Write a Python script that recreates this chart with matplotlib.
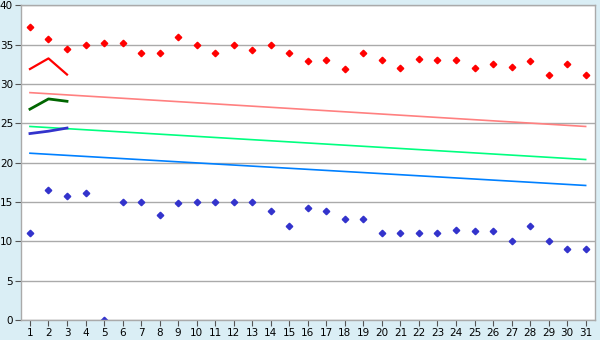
import matplotlib
matplotlib.use('Agg')
import matplotlib.pyplot as plt

# ---- data ----
days = list(range(1, 32))
red_pts = [37.2, 35.7, 34.4, 35.0, 35.2, 35.2, 34.0, 34.0, 36.0, 35.0,
           34.0, 35.0, 34.3, 35.0, 33.9, 32.9, 33.0, 31.9, 33.9, 33.0,
           32.0, 33.2, 33.0, 33.0, 32.0, 32.6, 32.2, 32.9, 31.1, 32.6, 31.1]
blue_pts = [11.1, 16.5, 15.8, 16.1, 0.0, 15.0, 15.0, 13.3, 14.9, 15.0,
            15.0, 15.0, 15.0, 13.9, 12.0, 14.3, 13.9, 12.8, 12.8, 11.1,
            11.1, 11.1, 11.0, 11.5, 11.3, 11.3, 10.0, 12.0, 10.0, 9.0, 9.0]

short_x = [1, 2, 3]
short_red = [31.9, 33.25, 31.2]
short_green = [26.8, 28.1, 27.8]
short_blue = [23.7, 24.0, 24.4]

trend_x = [1, 31]
trend_pink = [28.9, 24.6]
trend_green = [24.6, 20.4]
trend_blue = [21.2, 17.1]

bg = '#DAEEF5'
fig = plt.figure(figsize=(6, 3.4), dpi=100, facecolor=bg)
ax = fig.add_axes([0.0345, 0.0588, 0.957, 0.9256])
ax.set_facecolor('white')

ax.plot(trend_x, trend_pink, color='#FF8080', lw=1.2)
ax.plot(trend_x, trend_green, color='#00FF80', lw=1.2)
ax.plot(trend_x, trend_blue, color='#0080FF', lw=1.2)

ax.plot(short_x, short_red, color='#FF0000', lw=1.6)
ax.plot(short_x, short_green, color='#006600', lw=2)
ax.plot(short_x, short_blue, color='#3333CC', lw=2)

ax.plot(days, red_pts, ls='none', marker='D', ms=3.3, color='#FF0000')
ax.plot(days, blue_pts, ls='none', marker='D', ms=3.3, color='#3333CC')

ax.set_xlim(0.5, 31.5)
ax.set_ylim(0, 40)
ax.set_xticks(days)
ax.set_yticks(range(0, 41, 5))
ax.tick_params(labelsize=7.5, length=4, color='#555555', pad=1.5)
ax.grid(axis='y', color='#AAAAAA', lw=1)
ax.set_axisbelow(True)
for s in ax.spines.values():
    s.set_color('#AAAAAA')
    s.set_linewidth(1)

plt.savefig('out.png', dpi=100, facecolor=bg)
